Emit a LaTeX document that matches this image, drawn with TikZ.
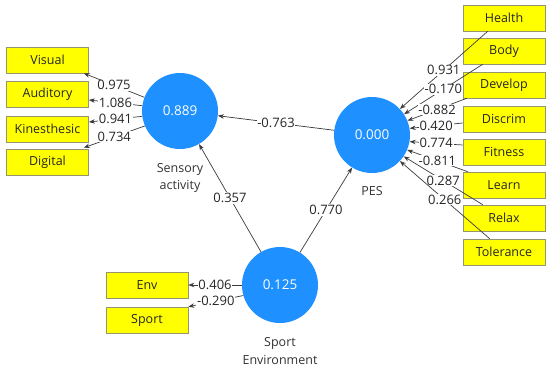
\documentclass[tikz,border=0pt]{standalone}
\usepackage{fontspec}
\setmainfont{Open Sans}
\usetikzlibrary{arrows.meta,calc}
\definecolor{lvblue}{RGB}{30,144,255}
\definecolor{boxyel}{RGB}{255,255,0}
\definecolor{boxline}{RGB}{150,150,110}
\definecolor{lnk}{RGB}{60,60,60}
\begin{document}
\begin{tikzpicture}[x=1pt,y=-1pt,
  lv/.style={circle,fill=lvblue,minimum size=76pt,inner sep=0pt,text=white,font=\fontsize{13.5}{16}\selectfont},
  ind/.style={rectangle,fill=boxyel,draw=boxline,line width=0.6pt,minimum width=82pt,minimum height=26pt,inner sep=0pt,text=black!85,font=\fontsize{12.5}{15}\selectfont},
  arr/.style={draw=lnk,line width=0.7pt,-{Stealth[length=6pt,width=4.5pt]}},
  lbl/.style={fill=white,inner sep=0.8pt,font=\fontsize{13}{15}\selectfont,text=black!85},
  lvcap/.style={font=\fontsize{12.5}{17.5}\selectfont,align=center,text=black!80}]
\useasboundingbox[fill=white] (0,0) rectangle (550,370);
% indicators left
\node[ind] (visual) at (47.5,60) {Visual};
\node[ind] (auditory) at (47.5,94) {Auditory};
\node[ind] (kines) at (47.5,129) {Kinesthesic};
\node[ind] (digital) at (47.5,162) {Digital};
% indicators right
\node[ind] (health) at (504,18) {Health};
\node[ind] (body) at (504,51) {Body};
\node[ind] (develop) at (504,85) {Develop};
\node[ind] (discrim) at (504,119) {Discrim};
\node[ind] (fitness) at (504,152) {Fitness};
\node[ind] (learn) at (504,185) {Learn};
\node[ind] (relax) at (504,218) {Relax};
\node[ind] (tolerance) at (504,252) {Tolerance};
% indicators bottom
\node[ind] (env) at (147,285) {Env};
\node[ind] (sportb) at (147,320) {Sport};
% latent variables
\node[lv] (sa) at (180,111) {0.889};
\node[lv] (pes) at (372,135) {0.000};
\node[lv] (se) at (280,285) {0.125};
\node[lvcap] (sacap) at (180,178) {Sensory\\activity};
\node[lvcap] (pescap) at (372,191) {PES};
\node[lvcap] (secap) at (280,351) {Sport\\Environment};
% outer model left
\draw[arr] (sa.159) -- node[lbl]{0.975} ($(visual.south east)+(-5,0)$);
\draw[arr] (sa.172) -- node[lbl]{1.086} ($(auditory.east)+(0,6)$);
\draw[arr] (sa.188) -- node[lbl]{0.941} ($(kines.east)+(0,-7)$);
\draw[arr] (sa.203) -- node[lbl]{0.734} ($(digital.north east)+(-5,-1)$);
% outer model right
\draw[arr] ($(health.south west)+(25,0)$) -- node[lbl]{0.931} (pes.43);
\draw[arr] ($(body.south west)+(20,0)$) -- node[lbl]{-0.170} (pes.33);
\draw[arr] ($(develop.south west)+(4,0)$) -- node[lbl]{-0.882} (pes.22);
\draw[arr] ($(discrim.west)+(0,4)$) -- node[lbl]{0.420} (pes.10);
\draw[arr] ($(fitness.west)+(0,-7)$) -- node[lbl]{0.774} (pes.-10);
\draw[arr] ($(learn.north west)+(5,0)$) -- node[lbl]{-0.811} (pes.-23);
\draw[arr] ($(relax.north west)+(20,0)$) -- node[lbl]{0.287} (pes.-34);
\draw[arr] ($(tolerance.north west)+(27,0)$) -- node[lbl]{0.266} (pes.-43);
% inner model
\draw[arr] (pes) -- node[lbl]{-0.763} (sa);
\draw[arr] (se) -- node[lbl]{0.357} (sa);
\draw[arr] (se) -- node[lbl]{0.770} (pes);
% outer model bottom
\draw[arr] (se.180) -- node[lbl]{0.406} (env.east);
\draw[arr] (se.196) -- node[lbl]{-0.290} (sportb.north east);
\end{tikzpicture}
\end{document}
